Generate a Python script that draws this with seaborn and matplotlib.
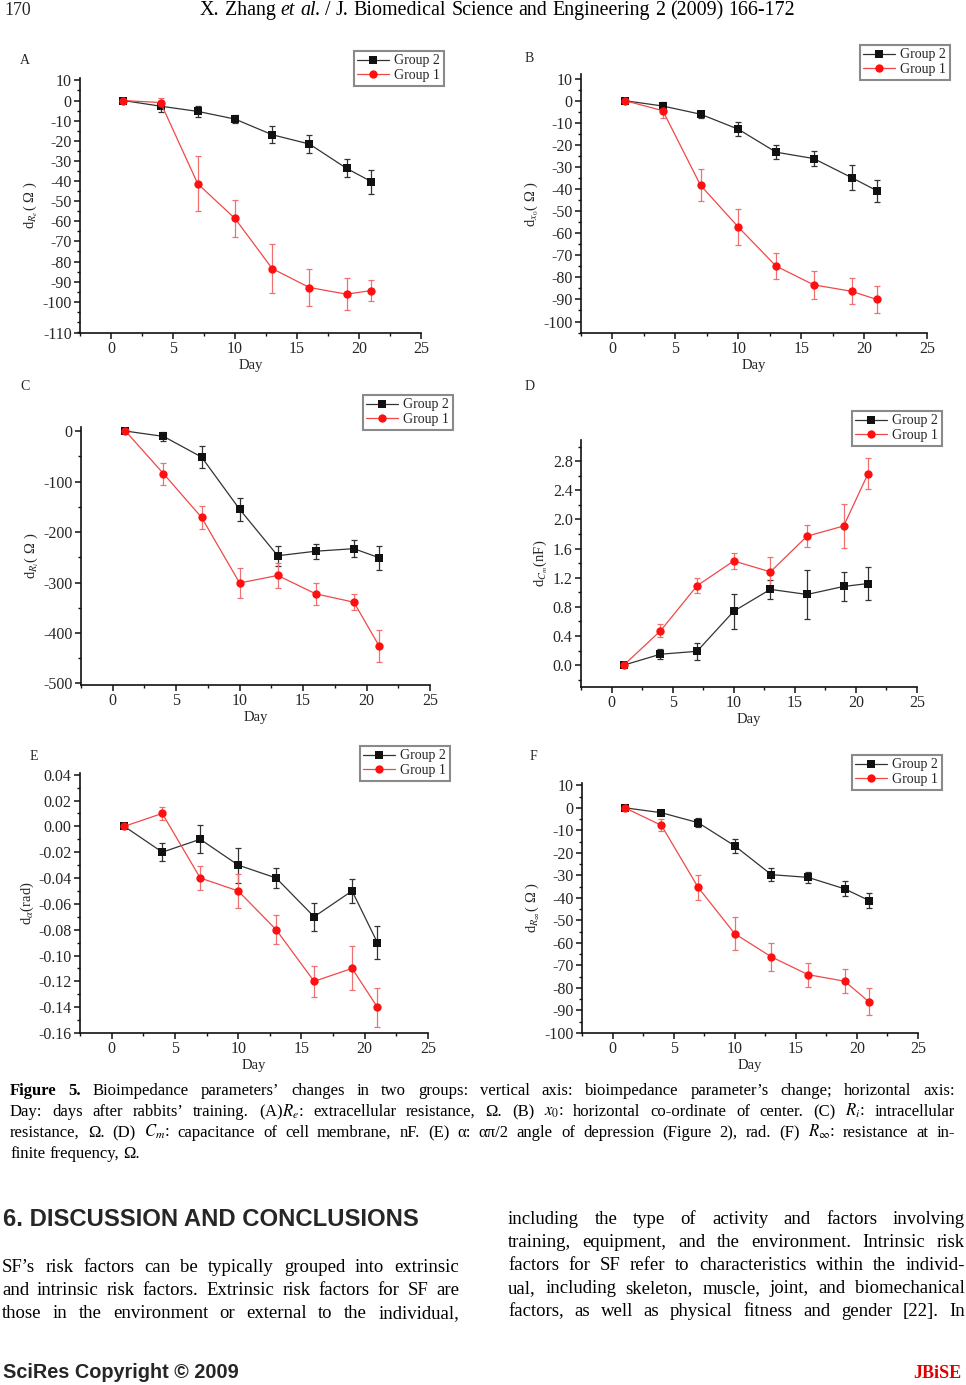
import numpy as np
import pandas as pd
import matplotlib
matplotlib.use("Agg")
import matplotlib.pyplot as plt
from matplotlib.lines import Line2D
from matplotlib.ticker import MultipleLocator
import seaborn as sns

sns.set_style("ticks")
plt.rcParams["font.family"] = ["Liberation Serif", "DejaVu Serif"]
plt.rcParams["mathtext.fontset"] = "stix"

W, H = 966, 1385

# ---------------- data ----------------
days = [1, 4, 7, 10, 13, 16, 19, 21]

a_g2 = [0, -2.8, -5.4, -9.2, -17.0, -21.6, -33.7, -40.3]
a_g2_err = [0, 2.7, 2.7, 2.0, 4.3, 4.5, 4.5, 6.0]
a_g1 = [0, -1.0, -41.4, -58.6, -83.5, -92.9, -96.2, -94.4]
a_g1_err = [0, 2.2, 13.6, 9.0, 12.0, 9.0, 7.8, 5.2]

b_g2 = [0, -2.4, -6.1, -12.9, -23.3, -26.2, -34.8, -40.7]
b_g2_err = [0, 1.9, 1.6, 3.1, 3.3, 3.5, 5.5, 5.0]
b_g1 = [0, -4.5, -38.3, -57.2, -74.9, -83.4, -86.3, -90.0]
b_g1_err = [0, 3.5, 7.3, 8.2, 6.0, 6.3, 5.8, 6.2]

c_g2 = [0, -10.6, -51.5, -155, -247, -238, -233, -251]
c_g2_err = [0, 9, 22, 23, 20, 15, 17, 24]
c_g1 = [0, -84.4, -171, -301, -286, -322.5, -339, -426]
c_g1_err = [0, 22, 23, 29, 24, 22, 16, 31]

d_g2 = [0, 0.15, 0.19, 0.74, 1.04, 0.97, 1.08, 1.12]
d_g2_err = [0, 0.07, 0.12, 0.24, 0.13, 0.34, 0.20, 0.23]
d_g1 = [0, 0.47, 1.09, 1.43, 1.28, 1.77, 1.91, 2.63]
d_g1_err = [0, 0.09, 0.10, 0.11, 0.21, 0.155, 0.30, 0.21]

e_g2 = [0, -0.02, -0.01, -0.03, -0.04, -0.07, -0.05, -0.09]
e_g2_err = [0, 0.007, 0.011, 0.0135, 0.0075, 0.011, 0.009, 0.013]
e_g1 = [0, 0.01, -0.04, -0.05, -0.08, -0.12, -0.11, -0.14]
e_g1_err = [0, 0.005, 0.009, 0.013, 0.011, 0.012, 0.017, 0.015]

f_g2 = [0, -2.2, -6.6, -16.9, -29.7, -30.9, -36.0, -41.2]
f_g2_err = [0, 1.0, 2.0, 3.2, 3.0, 2.6, 3.3, 3.2]
f_g1 = [0, -7.8, -35.3, -55.9, -66.2, -74.1, -77.0, -86.2]
f_g1_err = [0, 2.7, 5.5, 7.2, 6.3, 5.3, 5.3, 6.0]

group_names = ["Group 2", "Group 1"]
x_ticks = [0, 5, 10, 15, 20, 25]

a_yticks = [10, 0, -10, -20, -30, -40, -50, -60, -70, -80, -90, -100, -115.5]
a_yticklabels = ["10", "0", "-10", "-20", "-30", "-40", "-50", "-60", "-70", "-80", "-90", "-100", "-110"]
b_yticks = [10, 0, -10, -20, -30, -40, -50, -60, -70, -80, -90, -100]
b_yticklabels = ["10", "0", "-10", "-20", "-30", "-40", "-50", "-60", "-70", "-80", "-90", "-100"]
c_yticks = [0, -100, -200, -300, -400, -500]
c_yticklabels = ["0", "-100", "-200", "-300", "-400", "-500"]
d_yticks = [0.0, 0.4, 0.8, 1.2, 1.6, 2.0, 2.4, 2.8]
d_yticklabels = ["0.0", "0.4", "0.8", "1.2", "1.6", "2.0", "2.4", "2.8"]
e_yticks = [0.04, 0.02, 0.0, -0.02, -0.04, -0.06, -0.08, -0.10, -0.12, -0.14, -0.16]
e_yticklabels = ["0.04", "0.02", "0.00", "-0.02", "-0.04", "-0.06", "-0.08", "-0.10", "-0.12", "-0.14", "-0.16"]
f_yticks = [10, 0, -10, -20, -30, -40, -50, -60, -70, -80, -90, -100]
f_yticklabels = ["10", "0", "-10", "-20", "-30", "-40", "-50", "-60", "-70", "-80", "-90", "-100"]

panels = [
    dict(letter="A", g2=a_g2, e2=a_g2_err, g1=a_g1, e1=a_g1_err,
         rect=(80, 78, 421, 333), ylim=(-115.5, 11.2), yt=a_yticks, ytl=a_yticklabels,
         minor=5, ylabel="d$_{R_e}$( Ω )", letter_xy=(20, 60), leg=(354, 51)),
    dict(letter="B", g2=b_g2, e2=b_g2_err, g1=b_g1, e1=b_g1_err,
         rect=(581, 74, 927, 333), ylim=(-105.2, 12.1), yt=b_yticks, ytl=b_yticklabels,
         minor=5, ylabel="d$_{x_0}$( Ω )", letter_xy=(525, 59), leg=(860, 45)),
    dict(letter="C", g2=c_g2, e2=c_g2_err, g1=c_g1, e1=c_g1_err,
         rect=(81, 427, 430, 685), ylim=(-503, 8), yt=c_yticks, ytl=c_yticklabels,
         minor=50, ylabel="d$_{R_i}$( Ω )", letter_xy=(20, 386), leg=(363, 395)),
    dict(letter="D", g2=d_g2, e2=d_g2_err, g1=d_g1, e1=d_g1_err,
         rect=(581, 440, 917, 687), ylim=(-0.30, 3.09), yt=d_yticks, ytl=d_yticklabels,
         minor=0.2, ylabel="d$_{C_m}$(nF)", letter_xy=(525, 386), leg=(852, 411)),
    dict(letter="E", g2=e_g2, e2=e_g2_err, g1=e_g1, e1=e_g1_err,
         rect=(80, 773, 428, 1033), ylim=(-0.16, 0.0413), yt=e_yticks, ytl=e_yticklabels,
         minor=0.01, ylabel="d$_{\\alpha}$(rad)", letter_xy=(30, 757), leg=(360, 746)),
    dict(letter="F", g2=f_g2, e2=f_g2_err, g1=f_g1, e1=f_g1_err,
         rect=(582, 783, 918, 1033), ylim=(-100, 11), yt=f_yticks, ytl=f_yticklabels,
         minor=5, ylabel="d$_{R_\\infty}$( Ω )", letter_xy=(530, 757), leg=(852, 755)),
]

BLACK = "#111111"
BLACK_LINE = "#333333"
RED = "#ff1010"
RED_LINE = "#f04848"
RED_ERR = "#f07070"

fig = plt.figure(figsize=(W / 100, H / 100), dpi=100)
fig.patch.set_facecolor("white")


def frect(l, t, r, b):
    return [l / W, 1 - b / H, (r - l) / W, (b - t) / H]


for p in panels:
    ax = fig.add_axes(frect(*p["rect"]))
    df = pd.DataFrame({
        "Day": days + days,
        "value": p["g2"] + p["g1"],
        "Group": [group_names[0]] * len(days) + [group_names[1]] * len(days),
    })
    ax.errorbar(days, p["g2"], yerr=p["e2"], fmt="none", ecolor="#333333",
                elinewidth=0.9, capsize=2.5, capthick=0.9, zorder=2)
    ax.errorbar(days, p["g1"], yerr=p["e1"], fmt="none", ecolor=RED_ERR,
                elinewidth=0.9, capsize=2.5, capthick=0.9, zorder=2)
    sns.lineplot(data=df[df.Group == "Group 2"], x="Day", y="value", ax=ax,
                 color=BLACK_LINE, linewidth=0.9, marker="s", markersize=5.5,
                 markerfacecolor=BLACK, markeredgecolor=BLACK, markeredgewidth=0,
                 legend=False, zorder=3)
    sns.lineplot(data=df[df.Group == "Group 1"], x="Day", y="value", ax=ax,
                 color=RED_LINE, linewidth=0.9, marker="o", markersize=6,
                 markerfacecolor=RED, markeredgecolor=RED, markeredgewidth=0,
                 legend=False, zorder=4)
    ax.set_xlim(-2.5, 25)
    ax.set_ylim(*p["ylim"])
    ax.set_xticks(x_ticks)
    ax.set_xticklabels([str(v) for v in x_ticks])
    ax.xaxis.set_minor_locator(MultipleLocator(2.5))
    ax.set_yticks(p["yt"])
    ax.set_yticklabels(p["ytl"])
    ax.yaxis.set_minor_locator(MultipleLocator(p["minor"]))
    for s in ["top", "right"]:
        ax.spines[s].set_visible(False)
    for s in ["left", "bottom"]:
        ax.spines[s].set_linewidth(1.2)
        ax.spines[s].set_color("#111111")
    ax.tick_params(which="major", direction="out", length=4, width=1.1,
                   labelsize=11.5, pad=2, color="#111111")
    ax.tick_params(which="minor", direction="out", length=2.5, width=1.0, color="#111111")
    ax.set_xlabel("Day", fontsize=10.5, labelpad=1)
    ax.set_ylabel(p["ylabel"], fontsize=10.5, labelpad=2)
    ax.set_facecolor("white")
    ax.grid(False)
    lx, ly = p["letter_xy"]
    fig.text(lx / W, 1 - ly / H, p["letter"], fontsize=10, va="center", ha="left")
    handles = [
        Line2D([], [], color=BLACK_LINE, lw=0.9, marker="s", markersize=5.5,
               markerfacecolor=BLACK, markeredgewidth=0),
        Line2D([], [], color=RED_LINE, lw=0.9, marker="o", markersize=6,
               markerfacecolor=RED, markeredgewidth=0),
    ]
    gx, gy = p["leg"]
    leg = ax.legend(handles, group_names, loc="upper left",
                    bbox_to_anchor=(gx / W, 1 - gy / H), bbox_transform=fig.transFigure,
                    fontsize=10, frameon=True, fancybox=False, framealpha=1,
                    edgecolor="#8a8a8a", borderpad=0.25, handlelength=2.3,
                    handletextpad=0.35, labelspacing=0.12, borderaxespad=0)
    leg.get_frame().set_linewidth(1.5)

# ---------------- text ----------------
fig.canvas.draw()
renderer = fig.canvas.get_renderer()

SERIF = "Liberation Serif"
SANS = "Liberation Sans"


def place_tokens(tokens, x0, y_base, size, x1=None, family=SERIF, color="black", gap_em=None):
    texts = []
    for tok in tokens:
        t, w, st = tok
        tx = fig.text(0, 1 - y_base / H, t, fontsize=size, fontweight=w, fontstyle=st,
                      family=family, va="baseline", ha="left", color=color)
        texts.append(tx)
    widths = [tx.get_window_extent(renderer).width for tx in texts]
    if gap_em is None and x1 is not None and len(texts) > 1:
        gap = (x1 - x0 - sum(widths)) / (len(texts) - 1)
    else:
        gap = size * 100 / 72 * (0.25 if gap_em is None else gap_em)
    x = x0
    for tx, wd in zip(texts, widths):
        tx.set_x(x / W)
        x += wd + gap
    return texts


def words(line, bold=(), italic=()):
    out = []
    for i, wd in enumerate(line.split(" ")):
        out.append((wd, "bold" if i in bold else "normal", "italic" if i in italic else "normal"))
    return out


# header: fit the natural-width title between x=200 and x=795
header_text = "X. Zhang et al. / J. Biomedical Science and Engineering 2 (2009) 166-172"
probe = place_tokens(words(header_text, italic=(2, 3)), 200, 15, 13, gap_em=0.25)
probe_w = probe[-1].get_window_extent(renderer).x1 - 200
for t in probe:
    t.remove()
hsize = 13 * 595 / probe_w
place_tokens(words(header_text, italic=(2, 3)), 200, 15, hsize, gap_em=0.25)
fig.text(4 / W, 1 - 15 / H, "170", fontsize=12.8, family=SERIF, va="baseline", ha="left")

# caption
cap_lines = [
    ("Figure 5. Bioimpedance parameters’ changes in two groups: vertical axis: bioimpedance parameter’s change; horizontal axis:", (0, 1)),
    ("Day: days after rabbits’ training. (A)$R_e$: extracellular resistance, Ω. (B) $x_0$: horizontal co-ordinate of center. (C) $R_i$: intracellular", ()),
    ("resistance, Ω. (D) $C_m$: capacitance of cell membrane, nF. (E) α: απ/2 angle of depression (Figure 2), rad. (F) $R_\\infty$: resistance at in-", ()),
]
cap_y = [1095, 1116, 1137]
for (ln, bold), yb in zip(cap_lines, cap_y):
    place_tokens(words(ln, bold=bold), 10, yb, 12, x1=955)
place_tokens(words("finite frequency, Ω."), 10, 1158, 12)

# heading
fig.text(3 / W, 1 - 1226 / H, "6. DISCUSSION AND CONCLUSIONS", fontsize=17.2,
         fontweight="bold", family=SANS, va="baseline", ha="left")

left_col = [
    "SF’s risk factors can be typically grouped into extrinsic",
    "and intrinsic risk factors. Extrinsic risk factors for SF are",
    "those in the environment or external to the individual,",
]
right_col = [
    "including the type of activity and factors involving",
    "training, equipment, and the environment. Intrinsic risk",
    "factors for SF refer to characteristics within the individ-",
    "ual, including skeleton, muscle, joint, and biomechanical",
    "factors, as well as physical fitness and gender [22]. In",
]
for i, ln in enumerate(left_col):
    place_tokens(words(ln), 2, 1272 + 23 * i, 13.5, x1=459)
for i, ln in enumerate(right_col):
    place_tokens(words(ln), 508, 1224 + 23 * i, 13.5, x1=965)

# footer
fig.text(3 / W, 1 - 1378 / H, "SciRes Copyright © 2009", fontsize=14.3, fontweight="bold",
         family=SANS, va="baseline", ha="left")
fig.text(962 / W, 1 - 1378 / H, "JBiSE", fontsize=13, fontweight="bold",
         family=SERIF, va="baseline", ha="right", color="#e00000")

fig.savefig("out.png", dpi=100, facecolor="white")
